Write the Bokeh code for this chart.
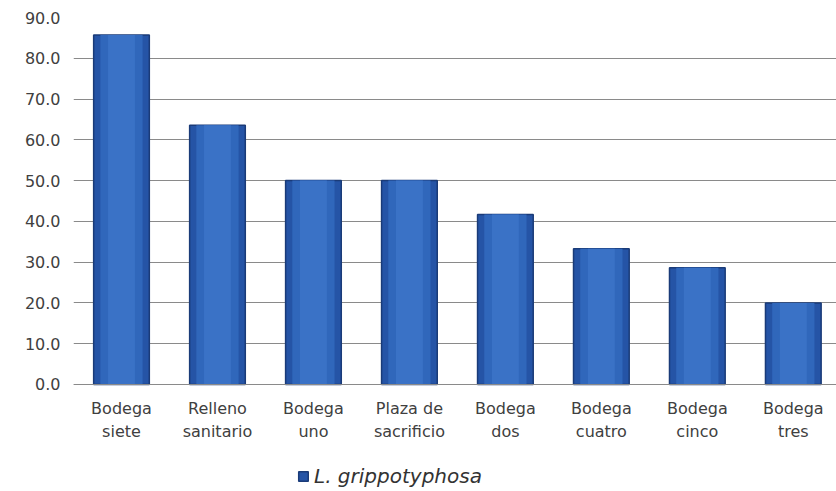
from bokeh.plotting import figure
from bokeh.models import Range1d, FixedTicker, NumeralTickFormatter, Legend, LegendItem, ColumnDataSource
from bokeh.embed import file_html
from bokeh.resources import INLINE

categories = ["Bodega\nsiete", "Relleno\nsanitario", "Bodega\nuno", "Plaza de\nsacrificio",
              "Bodega\ndos", "Bodega\ncuatro", "Bodega\ncinco", "Bodega\ntres"]
values = [85.7, 63.6, 50.0, 50.0, 41.7, 33.3, 28.6, 20.0]
y_ticks = [0, 10, 20, 30, 40, 50, 60, 70, 80, 90]
series_name = "L. grippotyphosa"

xs = [i + 0.5 for i in range(len(categories))]
src = ColumnDataSource(dict(x=xs, top=values))

p = figure(frame_width=763, frame_height=473, output_backend="svg", toolbar_location=None,
           x_range=Range1d(0, 7.95), y_range=Range1d(-26, 90),
           min_border_left=73, min_border_right=0, min_border_top=17, min_border_bottom=0)
p.outline_line_color = None
p.background_fill_color = "white"

main = p.vbar(x="x", top="top", width=0.58, source=src, fill_color="#2554a6",
              line_color="#1a3b78", line_width=1.5)
p.vbar(x="x", top="top", width=0.44, source=src, fill_color="#3067bb", line_color=None)
p.vbar(x="x", top="top", width=0.28, source=src, fill_color="#3a72c6", line_color=None)

p.xgrid.grid_line_color = None
p.ygrid.grid_line_color = "#8a8a8a"
p.ygrid.grid_line_width = 1
p.yaxis.ticker = FixedTicker(ticks=y_ticks)
p.yaxis.formatter = NumeralTickFormatter(format="0.0")
p.yaxis.axis_line_color = None
p.yaxis.major_tick_line_color = None
p.yaxis.minor_tick_line_color = None
p.yaxis.major_label_standoff = 7
p.yaxis.major_label_text_font = "DejaVu Sans"
p.yaxis.major_label_text_font_size = "16px"
p.yaxis.major_label_text_color = "#404040"

p.xaxis.fixed_location = 0
p.xaxis.ticker = FixedTicker(ticks=xs)
p.xaxis.major_label_overrides = {x: c for x, c in zip(xs, categories)}
p.xaxis.axis_line_color = "#8a8a8a"
p.xaxis.major_tick_line_color = None
p.xaxis.minor_tick_line_color = None
p.xaxis.major_label_standoff = 9
p.xaxis.major_label_text_font = "DejaVu Sans"
p.xaxis.major_label_text_font_size = "16px"
p.xaxis.major_label_text_color = "#404040"
p.xaxis.major_label_text_line_height = 1.2

legend = Legend(items=[LegendItem(label=series_name, renderers=[main])],
                orientation="horizontal", location=(224, 2),
                label_text_font="DejaVu Sans", label_text_font_style="italic",
                label_text_font_size="20px", label_text_color="#333333",
                glyph_width=12, glyph_height=12, label_standoff=5, label_height=20,
                border_line_color=None, background_fill_alpha=0, padding=0, margin=0)
p.add_layout(legend, "center")

open("out.html", "w").write(file_html(p, INLINE))
